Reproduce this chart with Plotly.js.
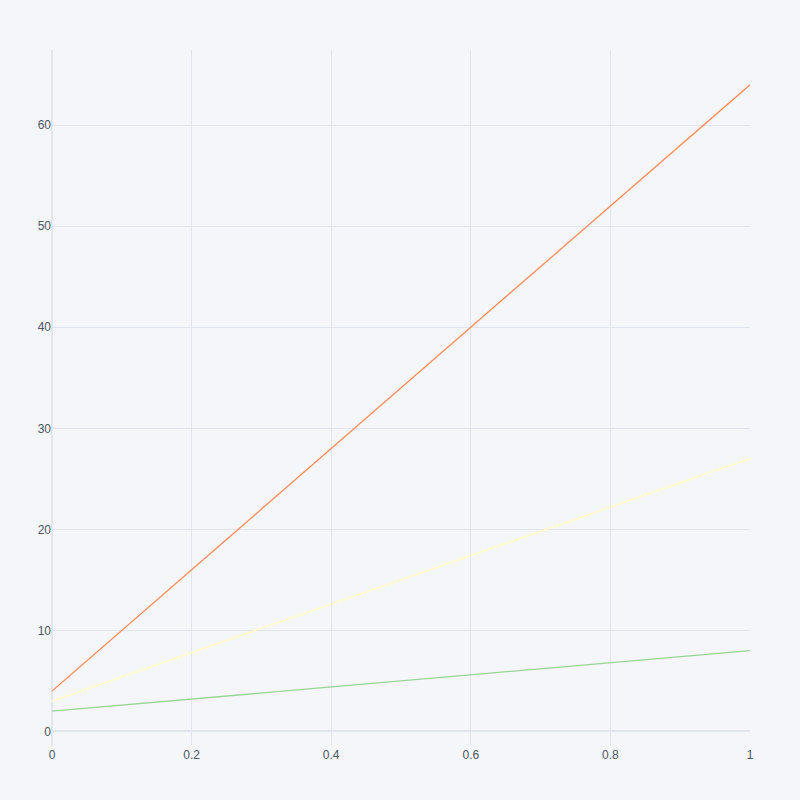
<!DOCTYPE html>
<html>
<head>
<meta charset="utf-8">
<script src="https://cdn.plot.ly/plotly-3.0.1.min.js"></script>
<style>
  html, body { margin: 0; padding: 0; background: #F5F6F9; }
  #chart { width: 800px; height: 800px; }
</style>
</head>
<body>
<div id="chart"></div>
<script>
// values
const xValues = [0, 0.2, 0.4, 0.6, 0.8, 1];
const seriesA = [4, 16, 28, 40, 52, 64];
const seriesB = [3, 7.8, 12.6, 17.4, 22.2, 27];
const seriesC = [2, 3.2, 4.4, 5.6, 6.8, 8];
const seriesNames = ['A', 'B', 'C'];
const seriesColors = ['#fc8d59', '#ffffbf', '#99d594'];

const traces = [seriesA, seriesB, seriesC].map(function (ys, i) {
    return {
        x: xValues,
        y: ys,
        name: seriesNames[i],
        type: 'scatter',
        mode: 'lines',
        line: { color: seriesColors[i], width: 1.3 }
    };
});

const axisStyle = {
    showgrid: true,
    gridcolor: '#E1E5ED',
    zerolinecolor: '#E1E5ED',
    zerolinewidth: 2,
    showline: false,
    tickfont: { color: '#4D5663', size: 12 }
};

Plotly.newPlot('chart', traces, {
    width: 800,
    height: 800,
    font: { family: '"Liberation Sans", Arial, sans-serif' },
    paper_bgcolor: '#F5F6F9',
    plot_bgcolor: '#F5F6F9',
    showlegend: false,
    margin: { l: 52, r: 50, t: 50, b: 54 },
    xaxis: Object.assign({}, axisStyle),
    yaxis: Object.assign({}, axisStyle)
}, { displayModeBar: false });
</script>
</body>
</html>
